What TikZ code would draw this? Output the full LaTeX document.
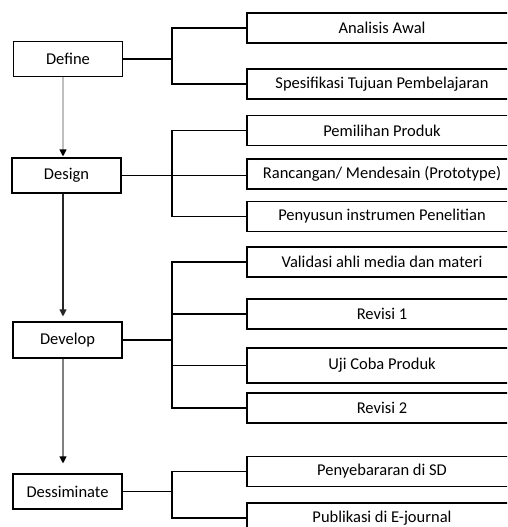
\documentclass[tikz,border=0pt]{standalone}
\usepackage{fontspec}
\setmainfont{Carlito}
\usetikzlibrary{arrows.meta, positioning, calc}

\begin{document}
\begin{tikzpicture}[x=1pt, y=-1pt, >={Triangle[width=7pt, length=7pt]}, font=\fontsize{16.5}{19}\selectfont, line width=1.1pt]
				\tikzset{phase/.style={draw, rectangle, fill=white, minimum width=109pt, minimum height=35pt, inner sep=0pt},
					task/.style={draw, rectangle, fill=white, minimum width=270pt, minimum height=30pt, inner sep=0pt}}
				\useasboundingbox (0,0) rectangle (507,527);
				\clip (0,0) rectangle (507,527);
				\coordinate (ax) at (63, 0);
				\coordinate (tr) at (172, 0);
				
				\node[phase] (define) at (68, 59) {Define};
				\node[phase] (design) at (66.5, 175.5) {Design};
				\node[phase, minimum height=36pt] (develop) at (67.5, 340) {Develop};
				\node[phase] (dess) at (67.5, 491.5) {Dessiminate};
				
				\node[task] (awal) at (382, 28) {Analisis Awal};
				\node[task] (spek) at (382, 84) {Spesifikasi Tujuan Pembelajaran};
				\node[task] (pilih) at (382, 130.5) {Pemilihan Produk};
				\node[task] (ranc) at (382, 174) {Rancangan/ Mendesain (Prototype)};
				\node[task] (susun) at (382, 216.5) {Penyusun instrumen Penelitian};
				\node[task] (valid) at (382, 262) {Validasi ahli media dan materi};
				\node[task] (rev1) at (382, 314) {Revisi 1};
				\node[task, minimum height=35pt] (uji) at (382, 365.5) {Uji Coba Produk};
				\node[task] (rev2) at (382, 408) {Revisi 2};
				\node[task] (sebar) at (382, 471.5) {Penyebararan di SD};
				\node[task] (publ) at (382, 518) {Publikasi di E-journal};
				
				\draw[-{Triangle[width=7pt, length=7pt, color=black]}, gray!50, shorten >=1pt] (define.south -| ax) -- (design.north -| ax);
				\draw[->, black!85, shorten >=5pt] (design.south -| ax) -- (develop.north -| ax);
				\draw[-{Triangle[width=7pt, length=7pt, color=black]}, gray, shorten >=10pt] (develop.south -| ax) -- (dess.north -| ax);
				
				\draw (define.east) -- (define.east -| tr);
				\draw (awal.west) -| (tr |- spek.west) -- (spek.west);
				\draw (design.east) -- (design.east -| ranc.west);
				\draw (pilih.west) -| (tr |- susun.west) -- (susun.west);
				\draw (develop.east) -- (develop.east -| tr);
				\draw (valid.west) -| (tr |- rev2.west) -- (rev2.west);
				\draw (rev1.west) -- (rev1.west -| tr);
				\draw (uji.west) -- (uji.west -| tr);
				\draw (dess.east) -- (dess.east -| tr);
				\draw (sebar.west) -| (tr |- publ.west) -- (publ.west);
			\end{tikzpicture}
\end{document}
